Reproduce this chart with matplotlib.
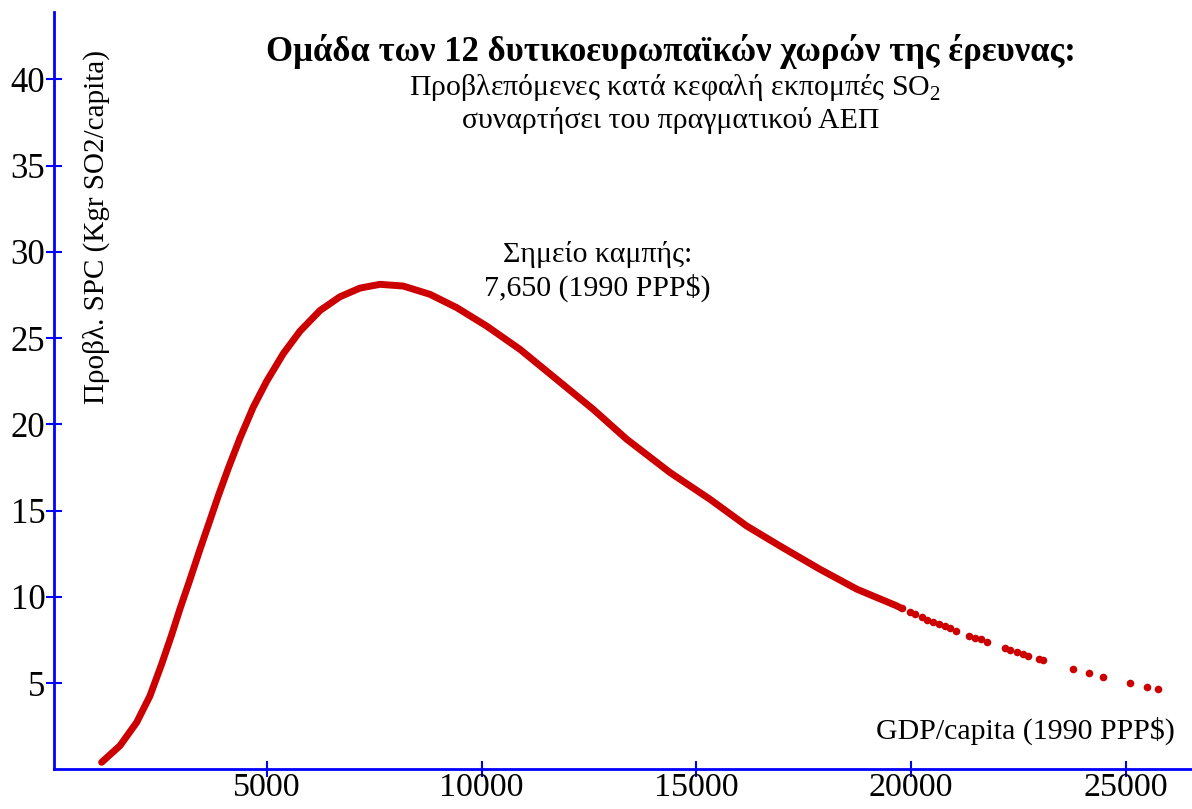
import matplotlib
matplotlib.use("Agg")
import matplotlib.pyplot as plt

plt.rcParams['font.family'] = ['Liberation Serif', 'DejaVu Serif']
plt.rcParams['mathtext.fontset'] = 'custom'
plt.rcParams['mathtext.rm'] = 'Liberation Serif'

# predicted SPC curve (dense part)
gdp_line = [1151, 1577, 1966, 2276, 2548, 2781, 2974, 3207, 3440, 3633, 3866, 4099,
            4371, 4681, 4993, 5380, 5768, 6234, 6700, 7165, 7631, 8173, 8795,
            9417, 10115, 10891, 11745, 12597, 13375, 14383, 15314, 16169, 16944,
            17875, 18730, 19661, 19778]
spc_line = [0.41, 1.37, 2.72, 4.26, 6.10, 7.80, 9.30, 11.00, 12.75, 14.15, 15.85, 17.45,
            19.20, 21.00, 22.50, 24.10, 25.40, 26.60, 27.40, 27.90, 28.12, 28.02, 27.54,
            26.77, 25.70, 24.35, 22.61, 20.87, 19.14, 17.21, 15.66, 14.11, 12.95,
            11.60, 10.45, 9.48, 9.33]

# sparse dots at the high-income end
gdp_dots = [19778, 19971, 20088, 20244, 20360, 20514, 20653, 20786, 20902, 21042,
            21352, 21484, 21617, 21771, 22190, 22299, 22455, 22595, 22725, 22981,
            23075, 23773, 24139, 24472, 25094, 25482, 25738]
spc_dots = [9.33, 9.13, 9.00, 8.81, 8.67, 8.52, 8.40, 8.29, 8.17, 8.04,
            7.71, 7.59, 7.54, 7.36, 7.03, 6.91, 6.78, 6.66, 6.58, 6.39,
            6.34, 5.82, 5.58, 5.38, 4.99, 4.80, 4.63]

xticks = [5000, 10000, 15000, 20000, 25000]
yticks = [5, 10, 15, 20, 25, 30, 35, 40]

red = '#cc0000'
blue = '#0000ff'

fig = plt.figure(figsize=(11.92, 8.09), dpi=100)
ax = fig.add_axes([0.0456, 0.049, 0.9544, 0.936])

ax.plot(gdp_line, spc_line, color=red, lw=5, solid_capstyle='round',
        solid_joinstyle='round')
ax.scatter(gdp_dots, spc_dots, color=red, s=30, zorder=3, linewidths=0)

ax.set_xlim(50, 26537)
ax.set_ylim(0, 43.9)
ax.set_xticks(xticks)
ax.set_yticks(yticks)

for s in ['top', 'right']:
    ax.spines[s].set_visible(False)
for s in ['left', 'bottom']:
    ax.spines[s].set_color(blue)
    ax.spines[s].set_linewidth(2)

ax.tick_params(direction='inout', length=11, width=1.5, color=blue,
               labelsize=25, pad=1)
ax.tick_params(axis='x', labelsize=24.5, pad=-3)

ax.text(0.081, 0.719, 'Προβλ. SPC (Kgr SO2/capita)', transform=fig.transFigure,
        rotation=90, ha='center', va='center', fontsize=21)
ax.text(0.986, 0.097, 'GDP/capita (1990 PPP$)', transform=fig.transFigure,
        ha='right', va='center', fontsize=21.5)

fig.text(0.563, 0.936, 'Ομάδα των 12 δυτικοευρωπαϊκών χωρών της έρευνας:',
         ha='center', va='center', fontsize=25, fontweight='bold')
fig.text(0.566, 0.892, 'Προβλεπόμενες κατά κεφαλή εκπομπές SO$_{\\mathrm{2}}$',
         ha='center', va='center', fontsize=21.5)
fig.text(0.563, 0.851, 'συναρτήσει του πραγματικού ΑΕΠ',
         ha='center', va='center', fontsize=21.5)

fig.text(0.501, 0.685, 'Σημείο καμπής:', ha='center', va='center', fontsize=21.5)
fig.text(0.501, 0.644, '7,650 (1990 PPP$)', ha='center', va='center', fontsize=21.5)

fig.savefig('out.png', dpi=100)
